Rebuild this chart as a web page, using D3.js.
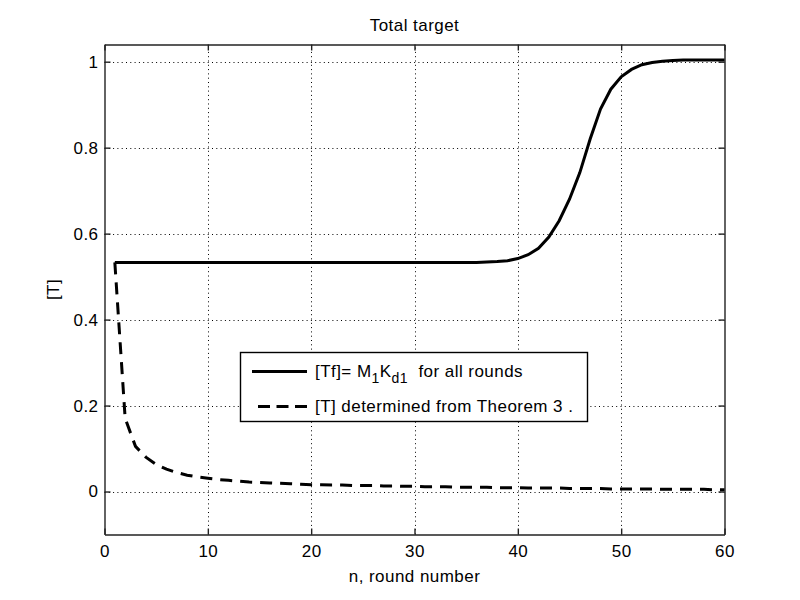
<!DOCTYPE html>
<html>
<head>
<script src="https://d3js.org/d3.v7.min.js"></script>
<style>
  body { margin: 0; background: #fff; }
  text { font-family: "Liberation Sans", Arial, sans-serif; fill: #000; letter-spacing: 0.45px; }
</style>
</head>
<body>
<script>
  var rounds = d3.range(1, 61);

  // [Tf] = M1 Kd1 for all rounds (solid line)
  var tfValues = [
    0.533, 0.533, 0.533, 0.533, 0.533, 0.533, 0.533, 0.533, 0.533, 0.533,
    0.533, 0.533, 0.533, 0.533, 0.533, 0.533, 0.533, 0.533, 0.533, 0.533,
    0.533, 0.533, 0.533, 0.533, 0.533, 0.533, 0.533, 0.533, 0.533, 0.533,
    0.533, 0.533, 0.533, 0.533, 0.533, 0.533, 0.534, 0.535, 0.537, 0.542,
    0.551, 0.566, 0.592, 0.630, 0.680, 0.742, 0.820, 0.890, 0.936, 0.965,
    0.982, 0.993, 0.998, 1.001, 1.003, 1.004, 1.004, 1.004, 1.004, 1.004
  ];

  // [T] determined from Theorem 3 (dashed line)
  var tValues = [
    0.533, 0.170, 0.105, 0.080, 0.063, 0.052, 0.044, 0.038, 0.034, 0.031,
    0.028, 0.026, 0.024, 0.022, 0.021, 0.020, 0.019, 0.018, 0.017, 0.016,
    0.016, 0.015, 0.015, 0.014, 0.014, 0.014, 0.013, 0.013, 0.012, 0.012,
    0.011, 0.011, 0.011, 0.010, 0.010, 0.010, 0.010, 0.009, 0.009, 0.009,
    0.008, 0.008, 0.008, 0.008, 0.007, 0.007, 0.007, 0.007, 0.006, 0.006,
    0.006, 0.006, 0.006, 0.005, 0.005, 0.005, 0.005, 0.005, 0.004, 0.004
  ];

  var xTicks = [0, 10, 20, 30, 40, 50, 60];
  var yTicks = [0, 0.2, 0.4, 0.6, 0.8, 1];

  var width = 800, height = 600;
  var plot = { left: 104.5, right: 724.5, top: 44.5, bottom: 534.5 };

  var svg = d3.select("body").append("svg")
    .attr("width", width)
    .attr("height", height);

  var x = d3.scaleLinear().domain([0, 60]).range([plot.left, plot.right]);
  var y = d3.scaleLinear().domain([-0.1, 1.04]).range([plot.bottom, plot.top]);

  // grid
  var grid = svg.append("g").attr("stroke", "#000").attr("stroke-width", 1)
    .attr("stroke-dasharray", "1,3.3");
  grid.selectAll("line.gx").data(xTicks.slice(1, -1)).enter().append("line")
    .attr("x1", d => Math.round(x(d)) + 0.5).attr("x2", d => Math.round(x(d)) + 0.5)
    .attr("y1", plot.bottom).attr("y2", plot.top);
  grid.selectAll("line.gy").data(yTicks).enter().append("line")
    .attr("y1", d => Math.round(y(d)) + 0.5).attr("y2", d => Math.round(y(d)) + 0.5)
    .attr("x1", plot.left).attr("x2", plot.right);

  // axes (box with ticks inside on all four sides)
  var xAxisB = d3.axisBottom(x).tickValues(xTicks).tickSizeInner(-6).tickSizeOuter(0).tickPadding(10);
  var xAxisT = d3.axisTop(x).tickValues(xTicks).tickSizeInner(-6).tickSizeOuter(0).tickFormat("");
  var yAxisL = d3.axisLeft(y).tickValues(yTicks).tickSizeInner(-6).tickSizeOuter(0).tickPadding(6)
    .tickFormat(d3.format("~g"));
  var yAxisR = d3.axisRight(y).tickValues(yTicks).tickSizeInner(-6).tickSizeOuter(0).tickFormat("");

  function styleAxis(g) {
    g.select(".domain").attr("stroke", "#222").attr("stroke-width", 1.4);
    g.selectAll(".tick line").attr("stroke", "#222").attr("stroke-width", 1.4);
    g.selectAll(".tick text").style("font-size", "17px").attr("fill", "#000");
  }

  svg.append("g").attr("transform", "translate(0," + plot.bottom + ")").call(xAxisB).call(styleAxis);
  svg.append("g").attr("transform", "translate(0," + plot.top + ")").call(xAxisT).call(styleAxis);
  svg.append("g").attr("transform", "translate(" + plot.left + ",0)").call(yAxisL).call(styleAxis);
  svg.append("g").attr("transform", "translate(" + plot.right + ",0)").call(yAxisR).call(styleAxis);

  // lines
  var line = d3.line().x(d => x(d[0])).y(d => y(d[1]));

  svg.append("path")
    .datum(rounds.map((n, i) => [n, tfValues[i]]))
    .attr("d", line)
    .attr("fill", "none")
    .attr("stroke", "#000")
    .attr("stroke-width", 3);

  svg.append("path")
    .datum(rounds.map((n, i) => [n, tValues[i]]))
    .attr("d", line)
    .attr("fill", "none")
    .attr("stroke", "#000")
    .attr("stroke-width", 3)
    .attr("stroke-dasharray", "12,8");

  // labels
  svg.append("text")
    .attr("x", (plot.left + plot.right) / 2).attr("y", 31)
    .attr("text-anchor", "middle")
    .style("font-size", "17px")
    .text("Total target");

  svg.append("text")
    .attr("x", (plot.left + plot.right) / 2).attr("y", 582)
    .attr("text-anchor", "middle")
    .style("font-size", "17px")
    .text("n, round number");

  svg.append("text")
    .attr("transform", "translate(59," + (plot.top + plot.bottom) / 2 + ") rotate(-90)")
    .attr("text-anchor", "middle")
    .style("font-size", "17px")
    .text("[T]");

  // legend
  var legend = svg.append("g");
  legend.append("rect")
    .attr("x", 240.5).attr("y", 352.5).attr("width", 347).attr("height", 69)
    .attr("fill", "#fff").attr("stroke", "#000").attr("stroke-width", 1.4);

  legend.append("line")
    .attr("x1", 252).attr("x2", 307).attr("y1", 371.5).attr("y2", 371.5)
    .attr("stroke", "#000").attr("stroke-width", 3);
  legend.append("line")
    .attr("x1", 258).attr("x2", 307).attr("y1", 406.5).attr("y2", 406.5)
    .attr("stroke", "#000").attr("stroke-width", 3)
    .attr("stroke-dasharray", "12,6.5");

  var t1 = legend.append("text").attr("x", 315).attr("y", 377).style("font-size", "17px")
    .attr("xml:space", "preserve");
  t1.append("tspan").text("[Tf]= M");
  t1.append("tspan").attr("dy", 6).style("font-size", "14px").text("1");
  t1.append("tspan").attr("dy", -6).text("K");
  t1.append("tspan").attr("dy", 6).style("font-size", "14px").text("d1");
  t1.append("tspan").attr("dy", -6).text("  for all rounds");

  legend.append("text").attr("x", 315).attr("y", 412).style("font-size", "17px")
    .text("[T] determined from Theorem 3 .");
</script>
</body>
</html>
